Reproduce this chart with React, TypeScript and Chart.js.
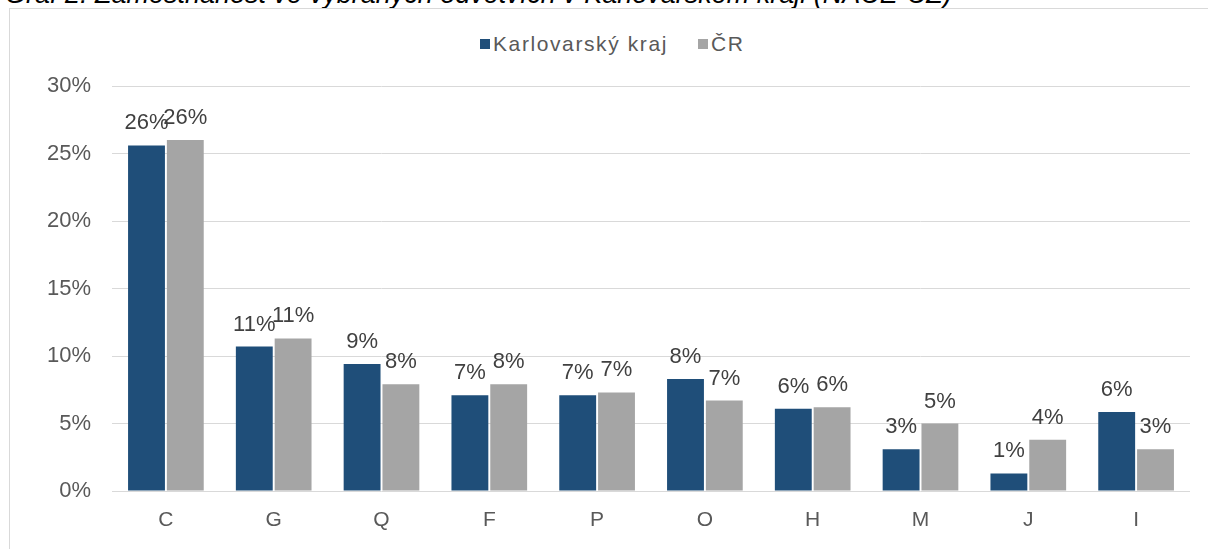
import React, { useEffect, useRef } from "react";
import { Chart, registerables } from "chart.js";

Chart.register(...registerables);

const categories = ["C", "G", "Q", "F", "P", "O", "H", "M", "J", "I"];
const karlovarsky = [25.6, 10.7, 9.4, 7.1, 7.1, 8.3, 6.1, 3.1, 1.3, 5.85];
const cr = [26.0, 11.3, 7.9, 7.9, 7.3, 6.7, 6.2, 5.0, 3.8, 3.1];
const seriesNames = ["Karlovarský kraj", "ČR"];
const yTicks = [0, 5, 10, 15, 20, 25, 30];
const titleText = "Graf 2: Zaměstnanost ve vybraných odvětvích v Karlovarském kraji (NACE-CZ)";

const FONT = "'Liberation Sans', Arial, sans-serif";

const valueLabels = {
  id: "valueLabels",
  afterDatasetsDraw(chart: any) {
    const ctx = chart.ctx;
    ctx.save();
    ctx.font = `22px ${FONT}`;
    ctx.fillStyle = "#404040";
    ctx.textAlign = "center";
    ctx.textBaseline = "alphabetic";
    chart.data.datasets.forEach((ds: any, di: number) => {
      const meta = chart.getDatasetMeta(di);
      meta.data.forEach((el: any, i: number) => {
        const v = ds.data[i];
        ctx.fillText(Math.round(v) + "%", el.x, el.y - 16);
      });
    });
    ctx.restore();
  },
};

export default function App() {
  const ref = useRef<HTMLCanvasElement>(null);
  useEffect(() => {
    if (!ref.current) return;
    const chart = new Chart(ref.current, {
      type: "bar",
      data: {
        labels: categories,
        datasets: [
          {
            label: seriesNames[0],
            data: karlovarsky,
            backgroundColor: "#1f4e79",
            barPercentage: 0.95,
            categoryPercentage: 0.72,
          },
          {
            label: seriesNames[1],
            data: cr,
            backgroundColor: "#a5a5a5",
            barPercentage: 0.95,
            categoryPercentage: 0.72,
          },
        ],
      },
      options: {
        animation: false,
        responsive: false,
        maintainAspectRatio: false,
        layout: { padding: { top: 77, right: 18, left: 0, bottom: 0 } },
        plugins: {
          legend: { display: false },
          tooltip: { enabled: false },
          title: { display: false },
        },
        scales: {
          x: {
            grid: { display: false, drawTicks: false },
            border: { display: false },
            ticks: { color: "#595959", font: { family: FONT, size: 21 }, padding: 17 },
            afterFit: (s: any) => {
              s.height = 58;
            },
          },
          y: {
            min: 0,
            max: 30,
            afterBuildTicks: (s: any) => {
              s.ticks = yTicks.map((v) => ({ value: v }));
            },
            grid: { color: "#d9d9d9", lineWidth: 1, drawTicks: false },
            border: { display: false },
            ticks: {
              color: "#595959",
              font: { family: FONT, size: 22 },
              padding: 21,
              callback: (v: any) => v + "%",
            },
            afterFit: (s: any) => {
              s.width = 102;
            },
          },
        },
      },
      plugins: [valueLabels],
    });
    return () => chart.destroy();
  }, []);

  return (
    <div style={{ position: "absolute", left: 0, top: 0, width: 1208, height: 549, overflow: "hidden", background: "#fff" }}>
      <div
        style={{
          position: "absolute",
          left: 5,
          top: -19,
          font: `italic 27px ${FONT}`,
          lineHeight: "27px",
          color: "#000",
          whiteSpace: "nowrap",
        }}
      >
        {titleText}
      </div>
      <div
        style={{
          position: "absolute",
          left: 9,
          top: 8,
          width: 1220,
          height: 560,
          border: "1px solid #d9d9d9",
        }}
      />
      <div
        style={{
          position: "absolute",
          left: 480,
          top: 33,
          display: "flex",
          alignItems: "center",
          font: `21px ${FONT}`,
          letterSpacing: "1.6px",
          color: "#595959",
          lineHeight: "22px",
          whiteSpace: "nowrap",
        }}
      >
        <span style={{ display: "inline-block", width: 10, height: 10, background: "#1f4e79", marginRight: 3 }} />
        <span>{seriesNames[0]}</span>
        <span style={{ display: "inline-block", width: 10, height: 10, background: "#a5a5a5", marginLeft: 30, marginRight: 3 }} />
        <span>{seriesNames[1]}</span>
      </div>
      <canvas ref={ref} width={1198} height={540} style={{ position: "absolute", left: 10, top: 9 }} />
    </div>
  );
}
